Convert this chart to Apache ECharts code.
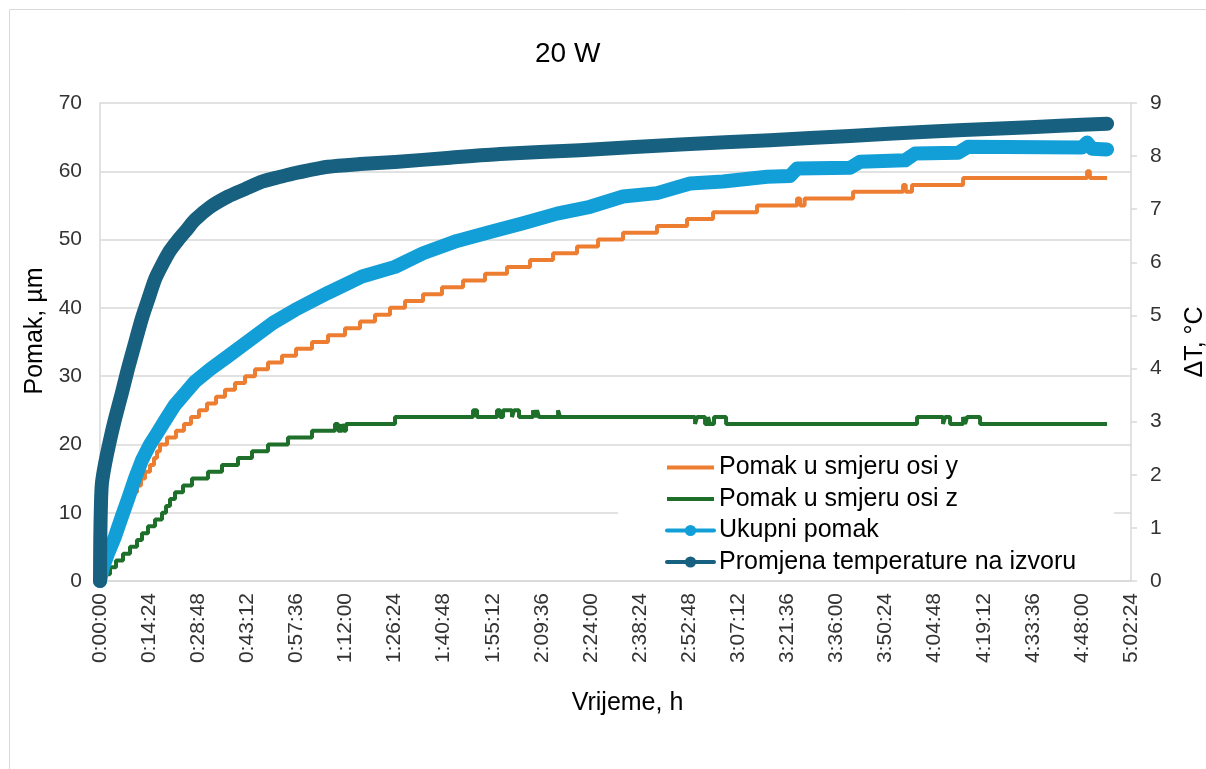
<!DOCTYPE html>
<html>
<head>
<meta charset="utf-8">
<script src="https://cdn.jsdelivr.net/npm/echarts@6/dist/echarts.min.js"></script>
<style>
  html, body { margin: 0; padding: 0; background: #fff; }
  #main { width: 1206px; height: 769px; }
</style>
</head>
<body>
<div id="main"></div>
<script>
// time in seconds
let tempTime = [0, 5, 18, 35, 88, 176, 264, 387, 493, 616, 739, 845, 968, 1091, 1232, 1373, 1531, 1672, 1936, 2253, 2552, 2851, 3168, 3432, 4013, 4576, 5192, 6160, 7040, 8448, 10208, 11792, 13200, 14555, 15840, 16896, 17723];
let tempVal = [0, 0.8, 1.5, 1.85, 2.2, 2.65, 3.05, 3.55, 4.0, 4.48, 4.95, 5.29, 5.68, 5.95, 6.22, 6.42, 6.62, 6.80, 7.04, 7.24, 7.38, 7.52, 7.61, 7.68, 7.80, 7.85, 7.89, 7.97, 8.04, 8.11, 8.22, 8.30, 8.38, 8.46, 8.52, 8.57, 8.61];

let totalTime = [0, 53, 141, 264, 387, 493, 616, 739, 880, 1003, 1144, 1320, 1496, 1672, 1936, 2235, 2640, 3045, 3432, 4013, 4611, 5192, 5685, 6283, 6864, 7445, 8043, 8624, 9205, 9803, 10384, 10965, 11739, 12144, 12267, 13200, 13376, 14168, 14344, 15101, 15277, 17283, 17371, 17459, 17723];
let totalVal = [0, 2, 4, 6.5, 9.5, 12, 15, 17.7, 20, 21.6, 23.5, 25.8, 27.5, 29.2, 31, 32.8, 35.3, 37.8, 39.7, 42.2, 44.6, 46.0, 48.0, 49.8, 51.1, 52.4, 53.8, 54.8, 56.3, 56.8, 58.2, 58.5, 59.2, 59.3, 60.4, 60.5, 61.4, 61.6, 62.6, 62.7, 63.6, 63.5, 64.2, 63.3, 63.2];

// step series: time where each value starts
let yTime = [0, 18, 53, 88, 123, 158, 211, 246, 299, 352, 405, 458, 510, 581, 651, 722, 792, 880, 950, 1003, 1056, 1179, 1338, 1478, 1602, 1742, 1883, 2042, 2200, 2376, 2552, 2728, 2957, 3203, 3450, 3731, 4013, 4312, 4576, 4840, 5104, 5368, 5685, 6019, 6389, 6776, 7163, 7568, 7973, 8395, 8765, 9205, 9803, 10331, 10789, 11563, 12267, 12320, 12400, 13253, 14133, 14180, 14290, 15189, 17371, 17420, 17723];
let yVal = [0, 1, 2, 3, 4, 5, 6, 7, 8, 9, 10, 11, 12, 13, 14, 15, 16, 17, 18, 19, 20, 21, 22, 23, 24, 25, 26, 27, 28, 29, 30, 31, 32, 33, 34, 35, 36, 37, 38, 39, 40, 41, 42, 43, 44, 45, 46, 47, 48, 49, 50, 51, 52, 53, 54, 55, 56, 55, 56, 57, 58, 57, 58, 59, 60, 59, 59];

let zTime = [0, 70, 176, 282, 405, 528, 651, 739, 845, 968, 1091, 1162, 1232, 1320, 1461, 1619, 1901, 2147, 2429, 2675, 2957, 3309, 3731, 4136, 4190, 4260, 4290, 4330, 5192, 6565, 6635, 6987, 7040, 7093, 7251, 7286, 7374, 7621, 7656, 7691, 7726, 8061, 8096, 10472, 10507, 10648, 10701, 10736, 10806, 11018, 14379, 14837, 14872, 14960, 15189, 15224, 15259, 15488, 17723];
let zVal = [0, 1, 2, 3, 4, 5, 6, 7, 8, 9, 10, 11, 12, 13, 14, 15, 16, 17, 18, 19, 20, 21, 22, 23, 22, 23, 22, 23, 24, 25, 24, 25, 24, 25, 24, 25, 24, 25, 24, 25, 24, 25, 24, 23, 24, 23, 24, 23, 24, 23, 24, 23, 24, 23, 24, 23, 24, 23, 23];

let seriesNames = ['Pomak u smjeru osi y', 'Pomak u smjeru osi z', 'Ukupni pomak', 'Promjena temperature na izvoru'];

function pairs(t, v) {
    return t.map(function (x, i) { return [x, v[i]]; });
}
function pad(n) { return (n < 10 ? '0' : '') + n; }
function hms(s) {
    let h = Math.floor(s / 3600), m = Math.floor((s % 3600) / 60), sec = Math.round(s % 60);
    return h + ':' + pad(m) + ':' + pad(sec);
}

let chart = echarts.init(document.getElementById('main'));
let labelFont = 'Liberation Sans';
let textFont = 'Liberation Sans';

let option = {
    animation: false,
    backgroundColor: '#fff',
    title: {
        text: '20 W',
        left: 530,
        top: 35,
        textStyle: { fontFamily: textFont, fontSize: 28, fontWeight: 'normal', color: '#000' }
    },
    graphic: [{
        type: 'rect',
        shape: { x: 9.5, y: 9.5, width: 1210, height: 780 },
        style: { fill: null, stroke: '#d9d9d9', lineWidth: 1 },
        silent: true
    }],
    grid: { left: 100, right: 75, top: 103, bottom: 188, outerBoundsMode: 'none' },
    legend: {
        orient: 'vertical',
        left: 618,
        top: 447,
        padding: [8, 38, 4, 47],
        backgroundColor: '#fff',
        itemWidth: 47,
        itemHeight: 14,
        itemGap: 6.5,
        lineStyle: { width: 4 },
        data: [
            { name: seriesNames[0], itemStyle: { opacity: 0 } },
            { name: seriesNames[1], itemStyle: { opacity: 0 } },
            { name: seriesNames[2] },
            { name: seriesNames[3] }
        ],
        textStyle: { fontFamily: textFont, fontSize: 25, color: '#000', lineHeight: 25 }
    },
    xAxis: {
        type: 'value',
        min: 0,
        max: 18144,
        interval: 864,
        name: 'Vrijeme, h',
        nameLocation: 'middle',
        nameGap: 110,
        nameTextStyle: { fontFamily: textFont, fontSize: 25, color: '#000', padding: [0, 0, 0, 24] },
        axisLine: { show: true, lineStyle: { color: '#d9d9d9', width: 1.5 } },
        axisTick: { show: false },
        splitLine: { show: false },
        axisLabel: {
            rotate: 90,
            margin: 12,
            fontFamily: labelFont,
            fontSize: 21,
            color: '#333',
            formatter: hms
        }
    },
    yAxis: [{
        type: 'value',
        min: 0,
        max: 70,
        interval: 10,
        name: 'Pomak, µm',
        nameLocation: 'middle',
        nameGap: 52,
        nameTextStyle: { fontFamily: textFont, fontSize: 25, color: '#000', padding: [0, 0, 0, 22] },
        axisLine: { show: true, lineStyle: { color: '#d9d9d9', width: 1.5 } },
        axisTick: { show: false },
        splitLine: { show: true, lineStyle: { color: '#d9d9d9', width: 1.5 } },
        axisLabel: { margin: 18, fontFamily: labelFont, fontSize: 21, color: '#333' }
    }, {
        type: 'value',
        min: 0,
        max: 9,
        interval: 1,
        name: 'ΔT, °C',
        nameLocation: 'middle',
        nameGap: 52,
        nameTextStyle: { fontFamily: textFont, fontSize: 25, color: '#000' },
        axisLine: { show: true, lineStyle: { color: '#d9d9d9', width: 1.5 } },
        axisTick: { show: true, inside: false, length: 6, lineStyle: { color: '#d9d9d9', width: 1.5 } },
        splitLine: { show: false },
        axisLabel: { margin: 19, fontFamily: labelFont, fontSize: 21, color: '#333' }
    }],
    series: [{
        name: seriesNames[0],
        type: 'line',
        step: 'end',
        data: pairs(yTime, yVal),
        symbol: 'none',
        color: '#ed7d31',
        lineStyle: { width: 4, color: '#ed7d31' }
    }, {
        name: seriesNames[1],
        type: 'line',
        step: 'end',
        data: pairs(zTime, zVal),
        symbol: 'none',
        color: '#1d6f2a',
        lineStyle: { width: 4, color: '#1d6f2a' }
    }, {
        name: seriesNames[2],
        type: 'line',
        data: pairs(totalTime, totalVal),
        symbol: 'circle',
        symbolSize: 13,
        showSymbol: false,
        color: '#129fd7',
        lineStyle: { width: 14, color: '#129fd7', cap: 'round', join: 'round' }
    }, {
        name: seriesNames[3],
        type: 'line',
        yAxisIndex: 1,
        data: pairs(tempTime, tempVal),
        smooth: 0.25,
        symbol: 'circle',
        symbolSize: 13,
        showSymbol: false,
        color: '#17607f',
        lineStyle: { width: 14, color: '#17607f', cap: 'round', join: 'round' }
    }]
};
chart.setOption(option);
</script>
</body>
</html>
